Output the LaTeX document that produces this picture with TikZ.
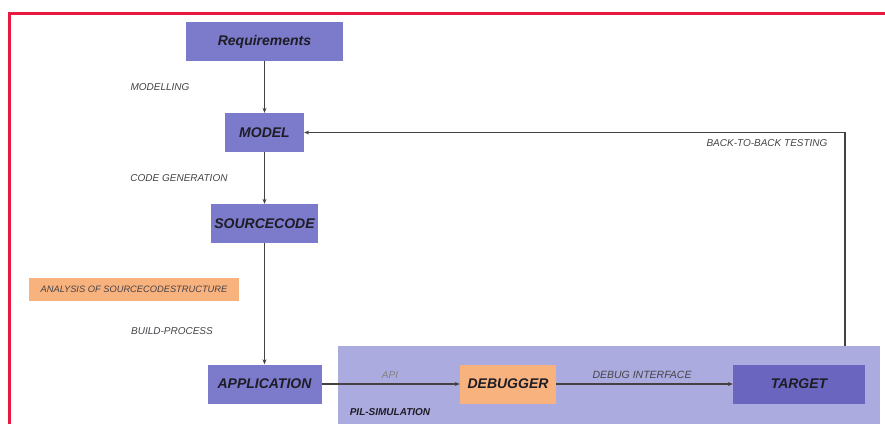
\documentclass[tikz,border=0pt]{standalone}
\usepackage{fontspec}
\setmainfont{Liberation Sans}
\usetikzlibrary{arrows.meta,positioning}
\definecolor{framered}{RGB}{232,26,66}
\definecolor{boxblue}{RGB}{124,122,202}
\definecolor{targetblue}{RGB}{106,102,192}
\definecolor{pilblue}{RGB}{172,171,224}
\definecolor{boxorange}{RGB}{248,178,126}
\definecolor{linegray}{RGB}{70,64,64}
\definecolor{textdark}{RGB}{30,28,36}
\definecolor{labelgray}{RGB}{70,66,72}
\begin{document}
\begin{tikzpicture}[x=1pt,y=-1pt,
    box/.style={fill=boxblue, inner sep=0pt, minimum height=39pt,
        font=\fontsize{14}{16}\selectfont\bfseries\itshape, text=textdark},
    lbl/.style={inner sep=0pt, font=\fontsize{10}{12}\selectfont\itshape, text=labelgray},
    flow/.style={draw=linegray, line width=1.4pt, -{Stealth[length=5pt,width=4pt]}}]
    \useasboundingbox (0,0) rectangle (885,424);
    %%Rahmen
    \draw[framered, line width=3pt] (9.5,424) -- (9.5,13) -- (885,13);
    %%PIL-Bereich
    \node[fill=pilblue, inner sep=0pt, minimum width=542pt, minimum height=78pt] (pil) at (609,385) {};
    \node[lbl, font=\fontsize{10}{12}\selectfont\bfseries\itshape, text=textdark] (pillbl) at (390,412) {PIL-SIMULATION};
    %%Kaesten
    \node[box, minimum width=157pt] (req) at (264.5,41.5) {Requirements};
    \node[box, minimum width=79pt] (model) at (264.5,132.5) {MODEL};
    \node[box, minimum width=107pt] (src) at (264.5,223.5) {SOURCECODE};
    \node[box, minimum width=114pt] (app) at (264.5,384) {APPLICATION};
    \node[box, fill=boxorange, minimum width=96pt] (dbg) at (508,384) {DEBUGGER};
    \node[box, fill=targetblue, minimum width=132pt] (tgt) at (799,384) {TARGET};
    %%Beschriftungen
    \node[lbl] (modlbl) at (160,87) {MODELLING};
    \node[lbl] (genlbl) at (179,178) {CODE GENERATION};
    \node[lbl, fill=boxorange, minimum width=210pt, minimum height=23pt,
        font=\fontsize{9.3}{11}\selectfont\itshape] (anlbl) at (134,289) {ANALYSIS OF SOURCECODESTRUCTURE};
    \node[lbl] (buildlbl) at (172,331) {BUILD-PROCESS};
    \node[lbl, text=gray] (apilbl) at (390,375) {API};
    \node[lbl, font=\fontsize{10.5}{12}\selectfont\itshape] (dbglbl) at (642,375) {DEBUG INTERFACE};
    \node[lbl] (btblbl) at (767,143) {BACK-TO-BACK TESTING};
    %%Pfeile
    \draw[flow] (req) -- (model);
    \draw[flow] (model) -- (src);
    \draw[flow] (src) -- (app);
    \draw[flow] (app) -- (dbg);
    \draw[flow] (dbg) -- (tgt);
    \coordinate (btb) at (845,346);
    \draw[flow] (btb) |- (model);
\end{tikzpicture}
\end{document}
